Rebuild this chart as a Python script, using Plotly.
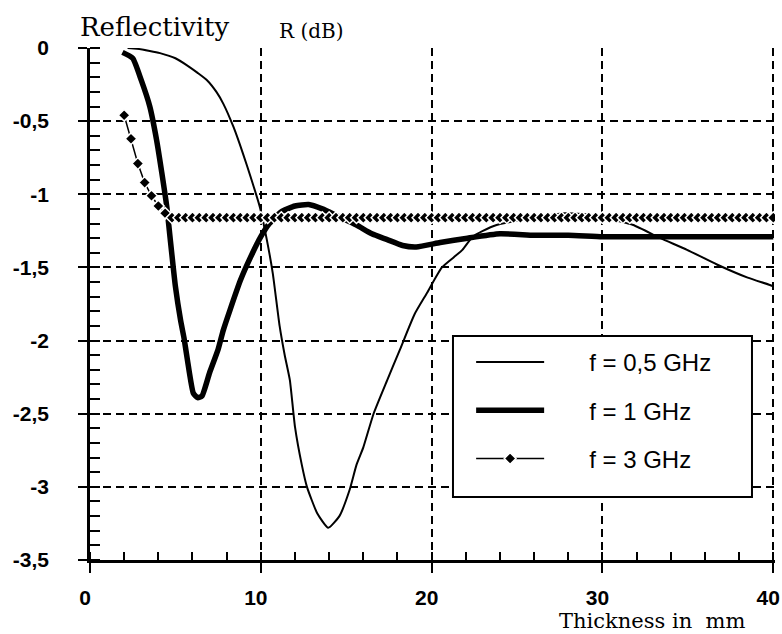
import plotly.graph_objects as go

# Reflectivity R (dB) versus absorber thickness (mm) at three frequencies

thick_05 = [2.2, 2.75, 3.5, 4.1, 5.0, 5.7, 6.3, 6.85, 7.4, 7.8, 8.4, 8.95, 9.4,
            9.95, 10.35, 10.7, 11.1, 11.4, 11.7, 12.0, 12.4, 12.7, 13.3, 13.95,
            14.6, 15.2, 15.6, 16.0, 16.6, 17.4, 18.15, 19.0, 19.7, 20.6, 21.3,
            21.8, 22.4, 23.0, 23.8, 25.0, 26.5, 27.8, 29.3, 30.8, 31.8, 33.4,
            34.95, 36.7, 38.5, 39.8, 40.0]
refl_05 = [0.0, -0.005, -0.02, -0.035, -0.07, -0.12, -0.17, -0.22, -0.3, -0.38,
           -0.54, -0.72, -0.88, -1.09, -1.31, -1.54, -1.9, -2.1, -2.27, -2.59,
           -2.85, -3.0, -3.18, -3.28, -3.2, -3.02, -2.85, -2.73, -2.5, -2.27,
           -2.06, -1.82, -1.68, -1.5, -1.43, -1.38, -1.29, -1.25, -1.21, -1.18,
           -1.15, -1.13, -1.14, -1.18, -1.21, -1.30, -1.38, -1.48, -1.57, -1.62,
           -1.63]

thick_1 = [1.9, 2.5, 3.0, 3.5, 3.9, 4.2, 4.5, 4.7, 5.0, 5.3, 5.5, 5.7, 6.05,
           6.3, 6.55, 7.0, 7.5, 7.8, 8.2, 8.8, 9.4, 10.0, 10.5, 11.2, 12.0,
           12.8, 13.6, 14.5, 15.6, 16.5, 17.4, 18.3, 19.1, 20.5, 22.1, 24.0,
           26.0, 28.0, 30.0, 32.0, 34.0, 36.0, 38.0, 40.0]
refl_1 = [-0.03, -0.07, -0.22, -0.40, -0.63, -0.85, -1.09, -1.31, -1.63, -1.86,
          -1.98, -2.13, -2.36, -2.39, -2.38, -2.22, -2.06, -1.93, -1.79, -1.59,
          -1.43, -1.29, -1.20, -1.12, -1.08, -1.07, -1.10, -1.15, -1.21, -1.27,
          -1.31, -1.35, -1.36, -1.33, -1.30, -1.27, -1.28, -1.28, -1.29, -1.29,
          -1.29, -1.29, -1.29, -1.29]

thick_3 = [2.0, 2.4, 2.8, 3.2, 3.6, 4.0, 4.4, 4.8, 5.2, 5.6,
           6.0, 6.4, 6.8, 7.2, 7.6, 8.0, 8.4, 8.8, 9.2, 9.6,
           10.0, 10.4, 10.8, 11.2, 11.6, 12.0, 12.4, 12.8, 13.2, 13.6,
           14.0, 14.4, 14.8, 15.2, 15.6, 16.0, 16.4, 16.8, 17.2, 17.6,
           18.0, 18.4, 18.8, 19.2, 19.6, 20.0, 20.4, 20.8, 21.2, 21.6,
           22.0, 22.4, 22.8, 23.2, 23.6, 24.0, 24.4, 24.8, 25.2, 25.6,
           26.0, 26.4, 26.8, 27.2, 27.6, 28.0, 28.4, 28.8, 29.2, 29.6,
           30.0, 30.4, 30.8, 31.2, 31.6, 32.0, 32.4, 32.8, 33.2, 33.6,
           34.0, 34.4, 34.8, 35.2, 35.6, 36.0, 36.4, 36.8, 37.2, 37.6,
           38.0, 38.4, 38.8, 39.2, 39.6, 40.0]
refl_3 = [-0.46, -0.62, -0.79, -0.92, -1.01, -1.08, -1.13, -1.16, -1.16, -1.16,
          -1.16, -1.16, -1.16, -1.16, -1.16, -1.16, -1.16, -1.16, -1.16, -1.16,
          -1.16, -1.16, -1.16, -1.16, -1.16, -1.16, -1.16, -1.16, -1.16, -1.16,
          -1.16, -1.16, -1.16, -1.16, -1.16, -1.16, -1.16, -1.16, -1.16, -1.16,
          -1.16, -1.16, -1.16, -1.16, -1.16, -1.16, -1.16, -1.16, -1.16, -1.16,
          -1.16, -1.16, -1.16, -1.16, -1.16, -1.16, -1.16, -1.16, -1.16, -1.16,
          -1.16, -1.16, -1.16, -1.16, -1.16, -1.16, -1.16, -1.16, -1.16, -1.16,
          -1.16, -1.16, -1.16, -1.16, -1.16, -1.16, -1.16, -1.16, -1.16, -1.16,
          -1.16, -1.16, -1.16, -1.16, -1.16, -1.16, -1.16, -1.16, -1.16, -1.16,
          -1.16, -1.16, -1.16, -1.16, -1.16, -1.16]

series_names = ["f = 0,5 GHz", "f = 1 GHz", "f = 3 GHz"]

x_tickvals = [0, 10, 20, 30, 40]
x_ticktext = ["0", "10", "20", "30", "40"]
y_tickvals = [0, -0.5, -1, -1.5, -2, -2.5, -3, -3.5]
y_ticktext = ["0", "-0,5", "-1", "-1,5", "-2", "-2,5", "-3", "-3,5"]

NBSP = "\u00a0"


def legend_label(text):
    # non-breaking spaces open a gap between the line sample and the text
    return NBSP * 6 + text


fig = go.Figure()

fig.add_trace(go.Scatter(
    x=thick_05, y=refl_05, mode="lines", name=legend_label(series_names[0]),
    line=dict(color="black", width=2, shape="spline", smoothing=0.5),
    legendgroup="a",
))
fig.add_trace(go.Scatter(
    x=thick_1, y=refl_1, mode="lines", name=legend_label(series_names[1]),
    line=dict(color="black", width=5.5, shape="spline", smoothing=0.5),
    legendgroup="b",
))
fig.add_trace(go.Scatter(
    x=thick_3, y=refl_3, mode="lines+markers", name=legend_label(series_names[2]),
    line=dict(color="black", width=1.5),
    marker=dict(symbol="diamond", size=9, color="black",
                line=dict(color="white", width=1.5)),
    legendgroup="c",
))

tick_font = dict(family="Liberation Sans, Arial, sans-serif", size=21,
                 color="black", weight="bold")

fig.update_xaxes(
    range=[0, 40.1], tickvals=x_tickvals, ticktext=x_ticktext,
    showline=True, linecolor="black", linewidth=2.5,
    ticks="outside", ticklen=10, tickwidth=2, tickcolor="black",
    minor=dict(dtick=2, ticks="inside", ticklen=8, tickwidth=2,
               tickcolor="black", showgrid=False),
    showgrid=True, gridcolor="black", gridwidth=2, griddash="8px,5px",
    zeroline=False, tickfont=tick_font, ticklabelstandoff=7,
    ticklabelshift=-5, ticklabeloverflow="allow", automargin=False,
)
fig.update_yaxes(
    range=[-3.5, 0], tickvals=y_tickvals, ticktext=y_ticktext,
    showline=True, linecolor="black", linewidth=2.5,
    ticks="outside", ticklen=9, tickwidth=2, tickcolor="black",
    minor=dict(dtick=0.1, ticks="inside", ticklen=10, tickwidth=2,
               tickcolor="black", showgrid=False),
    showgrid=True, gridcolor="black", gridwidth=2, griddash="8px,5px",
    zeroline=False, tickfont=tick_font, ticklabelstandoff=25,
    ticklabeloverflow="allow", automargin=False,
)

fig.update_layout(
    width=782, height=634,
    margin=dict(l=90, r=7, t=48, b=74),
    paper_bgcolor="white", plot_bgcolor="white",
    font=dict(family="Liberation Sans, Arial, sans-serif", color="black"),
    showlegend=True,
    legend=dict(
        x=0.5564, y=0.4297, xanchor="left", yanchor="top",
        bgcolor="rgba(0,0,0,0)", borderwidth=0,
        font=dict(family="Liberation Sans, Arial, sans-serif", size=24,
                  color="black"),
        itemwidth=68, traceorder="grouped", tracegroupgap=14,
    ),
    shapes=[
        # frame of the legend
        dict(type="rect", xref="paper", yref="paper",
             x0=0.5299, x1=0.9664, y0=0.123, y1=0.4375,
             fillcolor="white", line=dict(color="black", width=2),
             layer="above"),
    ],
    annotations=[
        dict(text="Reflectivity", xref="paper", yref="paper",
             x=-0.0175, y=1.041, xanchor="left", yanchor="middle",
             showarrow=False,
             font=dict(family="DejaVu Serif, serif", size=26, color="black")),
        dict(text="R (dB)", xref="paper", yref="paper",
             x=0.273, y=1.033, xanchor="left", yanchor="middle",
             showarrow=False,
             font=dict(family="DejaVu Serif, serif", size=20, color="black")),
        dict(text="Thickness in" + NBSP + NBSP + "mm", xref="paper", yref="paper",
             x=0.682, y=-0.119, xanchor="left", yanchor="middle",
             showarrow=False,
             font=dict(family="DejaVu Serif, serif", size=21, color="black")),
    ],
)

fig.write_html("out.html")
